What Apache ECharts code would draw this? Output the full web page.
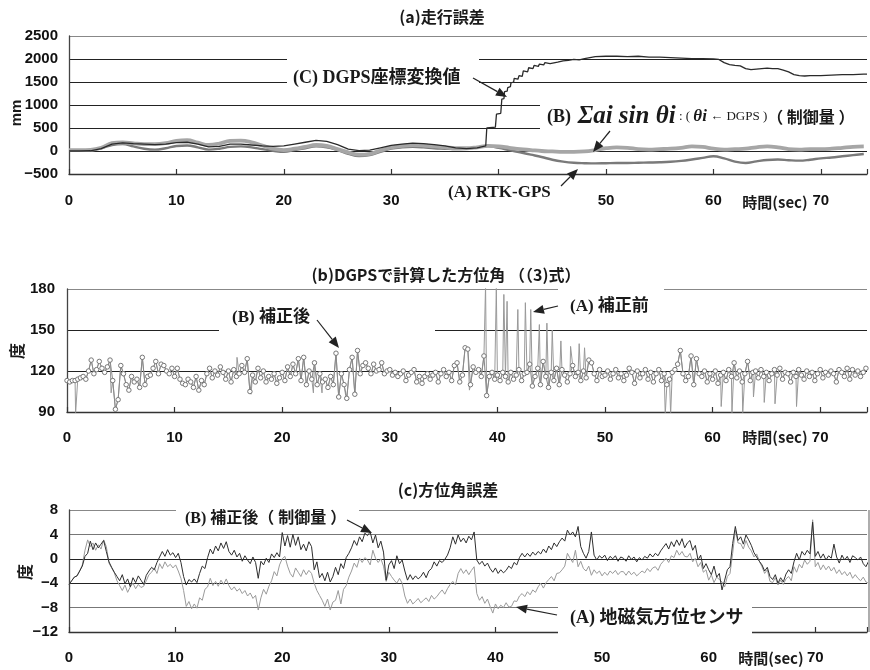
<!DOCTYPE html>
<html><head><meta charset="utf-8">
<script src="https://cdn.jsdelivr.net/npm/echarts@6/dist/echarts.min.js"></script>
<style>html,body{margin:0;padding:0;background:#fff}#c{width:870px;height:670px}</style>
</head><body><div id="c"></div>
<script>
// ================= DATA =================
// Panel (a) 走行誤差 [mm], sampled every 1 s
const aStep = 1;
const aRtkGps = [10,10,15,60,130,150,100,50,30,60, 110,120,80,30,50,90,100,80,40,5,
  -20,20,60,100,80,20,-60,-110,-90,-20, 50,80,90,80,60,50,40,50,80,110,
  70,20,-30,-80,-130,-190,-230,-255,-265,-270, -265,-260,-260,-255,-250,-245,-235,-215,-185,-150,
  -115,-160,-230,-260,-225,-195,-185,-200,-210,-190, -160,-140,-115,-90,-65];
const aSumSin = [20,20,25,70,170,185,165,150,150,170, 220,235,180,130,160,220,225,190,120,50,
  20,50,90,130,110,40,-30,-80,-60,10, 80,110,130,120,100,80,60,60,80,110,
  100,70,40,20,0,-10,-20,-20,-10,20, 60,80,70,40,30,40,50,70,100,90,
  50,30,40,50,80,100,80,40,30,40, 40,50,70,90,100];
const aDgpsTime = [0,1,2,3,4,5,6,7,8,9,10,11,12,13,14,15,16,17,18,19,20,21,22,23,24,25,26,27,28,29,30,31,32,33,34,35,36,37,38,
  38.8,38.9,39.7,39.8,40.2,40.3,40.5,40.55,40.8,40.85,41.1,41.15,41.4,41.45,41.8,41.9,42.2,42.3,42.7,42.8,43.2,43.3,43.7,43.8,44.2,44.3,44.8,44.9,
  45.5,46,46.5,47,47.5,48,48.5,49, 50,51,52,53,54,55,56,57,58,59,60,
  60.5,61,61.5,62,62.5,63,63.5,64,64.5,65,65.5,66,66.5,67,67.5,68,68.5, 69,70,71,72,73,74,74.3];
const aDgpsVal = [0,0,5,50,150,175,160,150,140,150, 180,190,150,90,100,150,150,130,110,100,
  110,150,190,230,210,140,40,10,20,70, 120,150,170,160,140,110,70,50,70,
  110,500,520,800,820,1130,1140,1290,1300,1380,1400,1480,1500,1580,1560,1640,1620,1740,1720,1810,1790,1860,1840,1890,1870,1920,1900,1940,
  1930,1960,1970,1990,1980,2010,2030,2050, 2060,2060,2050,2060,2040,2040,2030,2020,2010,2010,2000,
  1990,1920,1880,1860,1850,1790,1770,1780,1790,1800,1790,1790,1760,1720,1660,1640,1630, 1640,1640,1650,1660,1660,1670,1670];

// Panel (b) 方位角 [度]: corrected values every 0.25 s
const bStep = 0.25;
const bAfter = [113,112,113,113, 114,115,116,114, 120,128,118,121, 127,122,119,123, 128,113,92,99,
  124,118,110,106, 116,112,114,108, 130,110,116,117, 122,127,118,125, 124,120,118,122,
  116,122,114,111, 110,114,112,108, 116,106,113,110, 118,122,115,120, 117,123,119,114,
  120,112,121,116, 118,124,119,129, 105,117,112,122, 115,120,112,116, 114,118,111,115,
  119,113,123,116, 125,118,129,113, 130,110,120,114, 126,110,118,112, 114,108,116,110,
  133,101,118,110, 100,121,130,103, 135,118,124,126, 122,118,125,120, 121,126,118,120,
  121,117,119,116, 118,120,113,117, 119,121,112,116, 111,116,118,114, 117,119,112,118,
  121,116,119,113, 124,126,112,117, 137,136,110,123, 119,121,116,131, 102,116,119,114,
  117,113,119,116, 112,119,114,117, 121,113,118,119, 125,109,116,122, 110,127,116,108,
  119,113,122,110, 121,117,112,118, 124,116,119,113, 120,115,128,126, 118,113,121,116,
  117,120,114,118, 121,115,118,113, 117,122,119,111, 120,115,118,121, 114,119,112,118,
  121,113,118,110, 114,119,121,125, 135,118,113,116, 131,110,129,118, 116,120,112,118,
  114,120,111,117, 119,113,121,116, 126,115,120,112, 118,127,113,119, 120,115,121,116,
  119,113,118,121, 117,122,114,119, 118,112,119,116, 121,117,114,120, 116,119,113,118,
  121,115,119,117, 120,118,112,121, 119,116,122,114, 121,117,120,116, 119,122];
// uncorrected readings that differ from the corrected ones (spikes): times [s] and values [度]
const bBeforeSpikeTime = [0.8,4.1,15.8,17.1,22.9,23.7,25.9,37.4,38.9,39.9,40.6,40.9,41.9,42.6,43.1,43.9,44.6,45.1,45.9,46.8,47.6,48.1,
  55.6,56.1,60.8,61.8,62.8,63.8,64.8,65.8,67.8];
const bBeforeSpikeVal  = [89,104,130,103,104,104,102,106,183,181,176,171,165,170,165,154,155,150,142,138,140,137,
  88,88,94,89,89,101,97,96,94];

// Panel (c) 方位角誤差 [度], sampled every 0.25 s
const cStep = 0.25;
const cControl = [-4.2,-3.6,-3.0,-2.8, -2.0,-1.2,0.4,0.9, 2.9,1.5,2.6,1.8, 2.4,3.0,1.2,-0.5, -1.4,-2.2,-2.9,-3.6,
  -2.6,-4.1,-3.3,-4.6, -3.1,-3.9,-2.8,-3.5, -4.2,-2.7,-2.0,-1.4, -1.8,-0.6,0.3,1.2, 0.4,1.5,0.6,1.0,
  0.2,0.9,-0.6,-2.9, -4.3,-3.4,-3.8,-3.3, -3.9,-2.4,-1.2,-1.6, 0.2,1.6,0.8,2.1, 1.3,2.6,1.7,2.8,
  1.2,0.6,1.4,0.3, 0.9,-0.4,0.5,-0.2, -0.8,0.3,-0.6,-3.2, -0.4,-1.0,0.1,-0.6, 0.8,0.2,1.0,0.3,
  4.3,2.1,3.8,1.9, 4.0,2.2,3.6,1.5, 2.4,1.3,2.8,2.0, -1.8,-0.5,-3.1,-2.4, -3.6,-2.2,-3.8,-2.9,
  -1.4,-2.6,-0.8,-1.6, 0.2,0.9,1.8,3.0, 2.2,3.6,2.8,4.2, 3.8,4.4,2.6,3.9, 1.8,2.9,1.1,-3.5,
  -1.0,-0.3,-1.6,0.5, -0.8,-0.2,-2.0,-3.5, -2.6,-3.4,-2.8,-3.3, -2.9,-2.2,-3.1,-2.0, -1.6,-0.5,-1.2,-0.3,
  -0.6,-0.1,0.6,1.8, 3.6,2.4,3.9,2.8, 3.4,2.6,3.7,3.1, 4.4,-0.2,-0.9,-0.4, -1.2,-0.7,-1.6,-2.2,
  -1.5,-2.4,-1.8,-2.3, -1.9,-1.2,-1.6,-0.6, -1.0,0.2,0.9,0.3, 0.9,0.4,1.1,0.6, 1.2,0.8,1.6,1.0,
  2.1,1.5,2.6,2.0, 2.8,3.4,2.9,4.7, 3.9,4.4,3.6,5.3, 2.0,0.9,0.1,1.2, 4.4,0.6,-0.2,0.5,
  0.1,0.6,-0.3,0.4, 0.0,0.5,-0.4,0.3, 0.1,-0.4,0.5,-0.1, 0.3,-0.5,0.2,-0.2, 0.4,0.1,0.8,0.3,
  0.9,0.5,1.3,1.9, 2.5,1.6,2.8,2.0, 3.1,2.2,3.3,1.8, 2.6,3.0,1.4,2.2, -0.2,0.6,-1.6,-0.8,
  -1.8,-2.6,-1.2,-3.0, -2.4,-5.1,-3.5,-1.8, -1.3,2.5,5.3,3.0, 3.6,2.4,3.9,3.1, 2.2,1.0,0.3,-0.4,
  -1.0,-2.0,-1.4,-2.9, -3.4,-2.6,-4.0,-3.1, -3.8,-2.5,-1.8,-2.4, -0.5,0.9,-0.2,1.2, 0.6,1.4,0.8,6.0,
  0.4,1.2,0.1,0.8, -0.2,0.5,0.1,2.4, 0.3,-0.7,0.6,-0.2, 0.4,-0.6,0.5,0.2, -0.2,0.3,-0.8,-1.3, -0.4];
const cSensor = [-4.2,-3.6,-3.0,-2.8, -2.0,-1.0,1.4,3.1, 2.0,2.6,1.4,2.3, 1.6,3.1,2.0,-0.7, -1.5,-2.3,-3.6,-4.4,
  -5.2,-4.3,-5.5,-4.6, -4.0,-4.9,-4.2,-4.7, -4.5,-3.6,-2.6,-2.2, -1.5,-2.4,-0.8,-1.6, -0.5,-1.3,-0.9,-1.5,
  -1.0,-2.0,-3.2,-5.2, -7.8,-7.0,-8.2,-7.4, -8.1,-6.4,-6.8,-5.0, -4.6,-3.2,-4.4,-3.7, -4.5,-3.5,-4.2,-3.3,
  -4.4,-5.1,-4.6,-5.3, -4.9,-5.7,-5.2,-6.1, -5.6,-6.5,-6.0,-8.4, -6.4,-5.0,-5.8,-4.5, -3.6,-2.1,-2.8,-1.0,
  0.0,0.4,-1.2,-2.4, -3.0,-1.5,-2.2,-2.9, -1.8,-2.6,-1.9,-2.4, -4.0,-5.2,-6.0,-6.8, -7.8,-6.6,-8.4,-7.1,
  -6.8,-5.2,-7.4,-5.0, -4.4,-3.0,-2.0,-0.7, -1.4,0.1,-0.6,0.2, -0.2,-1.0,1.4,0.1, -0.6,0.0,-1.2,-3.7,
  -2.2,-2.9,-3.5,-4.0, -3.2,-4.0,-6.1,-7.3, -6.6,-7.4,-7.0,-6.5, -7.2,-6.8,-6.4,-7.0, -6.0,-6.6,-6.2,-5.6,
  -5.1,-5.8,-4.9,-4.2, -3.7,-4.3,-2.4,-1.6, -2.4,-1.8,-2.6,-1.9, -1.3,-5.7,-6.8,-6.2, -7.3,-6.6,-7.8,-8.9,
  -7.4,-8.2,-7.6,-8.0, -7.2,-7.9,-7.8,-6.9, -7.0,-6.1,-5.7,-6.2, -5.4,-5.9,-5.1,-5.5, -4.6,-4.0,-4.8,-3.9,
  -3.4,-2.9,-3.6,-2.4, -2.3,-1.8,-1.2,0.9, 0.1,-0.6,1.4,-1.3, -0.4,-1.6,-2.0,-1.2, -2.7,-1.8,-2.4,-2.0,
  -2.8,-2.2,-2.7,-2.0, -2.4,-1.9,-2.6,-2.1, -2.1,-2.7,-2.0,-2.6, -2.2,-2.8,-2.4,-2.0, -2.3,-1.6,-2.1,-1.5,
  -1.3,-1.9,-0.9,-0.4, 0.1,-0.6,0.5,0.2, 1.4,0.6,1.2,0.4, 0.3,0.9,-0.5,0.1, -1.3,-0.6,-2.2,-1.8,
  -3.5,-2.6,-3.9,-3.0, -3.4,-3.8,-4.6,-2.9, -2.4,0.9,4.7,2.6, 2.5,1.6,3.0,1.9, 1.3,0.3,0.8,-0.4,
  -1.3,-2.4,-1.8,-3.7, -3.9,-3.1,-4.3,-3.5, -4.2,-3.3,-2.9,-3.6, -1.3,-2.2,-0.9,-1.5, -0.2,-0.9,-0.4,6.4,
  -1.3,-0.6,-1.8,-1.0, -1.8,-1.2,-2.0,-1.4, -2.4,-1.8,-2.6,-2.1, -2.8,-2.2,-3.2,-2.6, -3.2,-3.6,-3.0,-3.8, -4.0];

// Axis ticks
const xTicks = [0,10,20,30,40,50,60,70];
const aYTicks = [-500,0,500,1000,1500,2000,2500];
const bYTicks = [90,120,150,180];
const cYTicks = [-12,-8,-4,0,4,8];

// ================= CHART =================
const AXF = "'Liberation Sans', Arial, sans-serif";
const JP = "'Noto Sans CJK JP', sans-serif";
const ANN = "'Liberation Serif', 'Noto Sans CJK JP', serif";
const pairs = (arr, step) => arr.map((v, i) => [+(i * step).toFixed(3), v]);
const zip = (ts, vs) => ts.map((t, i) => [t, vs[i]]);
// uncorrected series: corrected readings plus the spike readings, in time order
const bBeforeData = pairs(bAfter, bStep).concat(zip(bBeforeSpikeTime, bBeforeSpikeVal)).sort((p, q) => p[0] - q[0]);

function xAx(gi, max, margin) {
  return { type: 'value', gridIndex: gi, min: 0, max: max, interval: 10,
    axisLine: { show: true, onZero: false, lineStyle: { color: '#333', width: 1.3 } },
    axisTick: { show: true, inside: true, length: 5, lineStyle: { color: '#333', width: 1.2 } },
    axisLabel: { margin: margin, color: '#111', fontSize: 15, fontWeight: 700, fontFamily: AXF,
      formatter: v => xTicks.includes(v) ? String(v) : '' },
    splitLine: { show: false } };
}
function yAx(gi, ticks, colors, margin) {
  return { type: 'value', gridIndex: gi, min: ticks[0], max: ticks[ticks.length - 1],
    interval: ticks[1] - ticks[0],
    axisLine: { show: true, lineStyle: { color: '#444', width: 1.3 } },
    axisTick: { show: false },
    axisLabel: { margin: margin, color: '#111', fontSize: 15, fontWeight: 700, fontFamily: AXF,
      formatter: v => (v < 0 ? '\u2212' + Math.abs(v) : String(v)) },
    splitLine: { show: true, lineStyle: { color: colors, width: 1 } } };
}

function arrow(x1, y1, x2, y2) {
  const ang = Math.atan2(y2 - y1, x2 - x1), L = 11, W = 4.5;
  const bx = x2 - L * Math.cos(ang), by = y2 - L * Math.sin(ang);
  const px = -Math.sin(ang) * W, py = Math.cos(ang) * W;
  return [
    { type: 'line', z: 60, shape: { x1: x1, y1: y1, x2: bx, y2: by }, style: { stroke: '#222', lineWidth: 1.2 } },
    { type: 'polygon', z: 60, shape: { points: [[x2, y2], [bx + px, by + py], [bx - px, by - py]] }, style: { fill: '#222' } }
  ];
}
function box(x, y, w, h) { return { type: 'rect', z: 50, shape: { x: x, y: y, width: w, height: h }, style: { fill: '#fff' } }; }
function txt(x, y, s, font, align, rot) {
  return { type: 'text', z: 60, x: x, y: y, rotation: rot || 0,
    style: { text: s, font: font, fill: '#1a1a1a', align: align || 'left', verticalAlign: 'middle' } };
}

const graphics = [
  txt(442, 17, '(a)走行誤差', "bold 16px " + JP, 'center'),
  txt(446, 275, '(b)DGPSで計算した方位角 （（3)式）', "bold 16px " + JP, 'center'),
  txt(448, 490, '(c)方位角誤差', "bold 16px " + JP, 'center'),
  txt(17, 113, 'mm', "bold 15px " + AXF, 'center', Math.PI / 2),
  txt(17, 351, '度', "bold 16px " + JP, 'center', Math.PI / 2),
  txt(25, 572, '度', "bold 16px " + JP, 'center', Math.PI / 2),
  txt(775, 202, '時間(sec)', "bold 15px " + JP, 'center'),
  txt(775, 437, '時間(sec)', "bold 15px " + JP, 'center'),
  txt(771, 658, '時間(sec)', "bold 15px " + JP, 'center'),
  box(287, 52, 192, 40),
  txt(293, 78, '(C) DGPS座標変換値', "bold 18px " + ANN),
  box(540, 98, 330, 40),
  { type: 'text', z: 60, x: 547, y: 117,
    style: { text: '{p|(B)}  {s|Σai sin θi} {q|: ( }{r|θi}{q| ← DGPS )}{j|（ 制御量 ）}',
      align: 'left', verticalAlign: 'middle', fill: '#1a1a1a',
      rich: {
        p: { fontSize: 18, fontWeight: 'bold', fontFamily: "'Liberation Serif', serif", fill: '#1a1a1a' },
        s: { fontSize: 25, fontWeight: 'bold', fontStyle: 'italic', fontFamily: "'Liberation Serif', serif", fill: '#1a1a1a' },
        q: { fontSize: 13, fontFamily: "'Liberation Serif', serif", fill: '#1a1a1a' },
        r: { fontSize: 17, fontStyle: 'italic', fontWeight: 'bold', fontFamily: "'Liberation Serif', serif", fill: '#1a1a1a' },
        j: { fontSize: 16, fontWeight: 'bold', fontFamily: JP, fill: '#1a1a1a' }
      } } },
  box(446, 181, 114, 25),
  txt(448, 193, '(A) RTK-GPS', "bold 17px " + ANN),
  box(219, 298, 216, 42),
  txt(232, 318, '(B) 補正後', "bold 17px " + ANN),
  box(558, 283, 106, 39),
  txt(570, 307, '(A) 補正前', "bold 17px " + ANN),
  box(176, 502, 183, 26),
  txt(185, 519, '(B) 補正後（ 制御量 ）', "bold 16px " + ANN),
  box(558, 598, 194, 42),
  txt(570, 618, '(A) 地磁気方位センサ', "bold 18px " + ANN),
  { type: 'line', z: 40, shape: { x1: 869, y1: 510, x2: 869, y2: 632 }, style: { stroke: '#777', lineWidth: 1.2 } }
].concat(
  arrow(473, 78, 507, 97),
  arrow(610, 131, 593, 152),
  arrow(561, 186, 578, 169),
  arrow(317, 320, 339, 348),
  arrow(558, 306, 533, 312),
  arrow(347, 520, 372, 533),
  arrow(557, 615, 516, 607)
);

const option = {
  animation: false,
  backgroundColor: '#fff',
  grid: [
    { left: 69, top: 36, width: 801, height: 138, show: false },
    { left: 67, top: 289, width: 803, height: 123, show: false },
    { left: 69, top: 510, width: 801, height: 122, show: false }
  ],
  xAxis: [xAx(0, 74.3, 19), xAx(1, 74.35, 18), xAx(2, 74.85, 18)],
  yAxis: [
    yAx(0, aYTicks, ['#333', '#222', '#222', '#222', '#222', '#222', '#888'], 11),
    yAx(1, bYTicks, ['#333', '#222', '#222', '#888'], 12),
    yAx(2, cYTicks, ['#333', '#777', '#222', '#222', '#777', '#888'], 11)
  ],
  series: [
    { name: '(A) RTK-GPS', type: 'line', xAxisIndex: 0, yAxisIndex: 0, data: pairs(aRtkGps, aStep),
      showSymbol: false, smooth: 0.4, lineStyle: { color: '#7a7a7a', width: 2.4 }, z: 3 },
    { name: '(B) Σai sin θi', type: 'line', xAxisIndex: 0, yAxisIndex: 0, data: pairs(aSumSin, aStep),
      showSymbol: false, smooth: 0.4, lineStyle: { color: '#a6a6a6', width: 3.8 }, z: 4 },
    { name: '(C) DGPS座標変換値', type: 'line', xAxisIndex: 0, yAxisIndex: 0, data: zip(aDgpsTime, aDgpsVal),
      showSymbol: false, lineStyle: { color: '#2a2a2a', width: 1.3 }, z: 5 },
    { name: '(A) 補正前', type: 'line', xAxisIndex: 1, yAxisIndex: 1, data: bBeforeData,
      showSymbol: false, lineStyle: { color: '#999', width: 1 }, z: 3 },
    { name: '(B) 補正後', type: 'line', xAxisIndex: 1, yAxisIndex: 1, data: pairs(bAfter, bStep),
      symbol: 'circle', symbolSize: 4.5, showSymbol: true, showAllSymbol: true,
      itemStyle: { color: '#fff', borderColor: '#777', borderWidth: 1 },
      lineStyle: { color: '#8a8a8a', width: 1 }, z: 4 },
    { name: '(A) 地磁気方位センサ', type: 'line', xAxisIndex: 2, yAxisIndex: 2, data: pairs(cSensor, cStep),
      showSymbol: false, lineStyle: { color: '#9a9a9a', width: 1 }, z: 3 },
    { name: '(B) 補正後(制御量)', type: 'line', xAxisIndex: 2, yAxisIndex: 2, data: pairs(cControl, cStep),
      showSymbol: false, lineStyle: { color: '#2e2e2e', width: 1 }, z: 4 }
  ],
  graphic: { elements: graphics }
};
const chart = echarts.init(document.getElementById('c'), null, { renderer: 'canvas', width: 870, height: 670 });
chart.setOption(option);
</script>
</body></html>
